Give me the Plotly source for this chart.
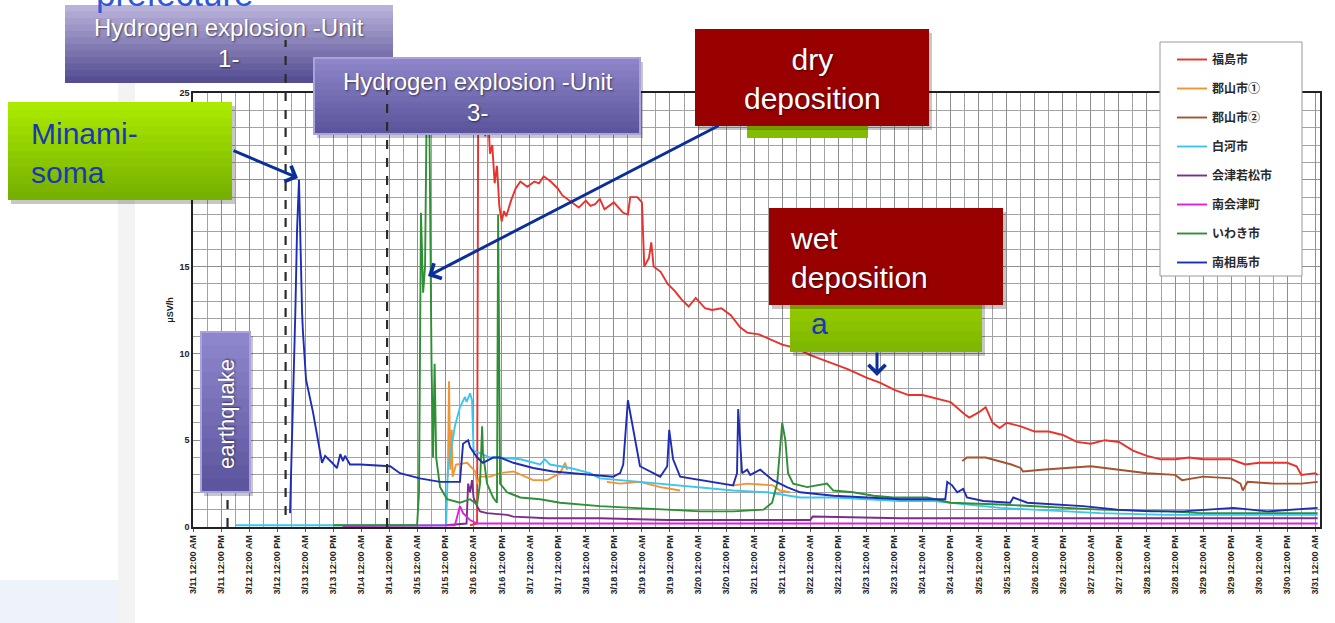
import pandas as pd
import plotly.graph_objects as go

# Air dose rate readings in Fukushima prefecture, March 2011 (μSv/h)
# each series: (date-time "MM-DD HH:MM", value)
fukushima = [
    ("03-15 22:30", 0.1), ("03-16 01:30", 0.2), ("03-16 02:00", 26.0), ("03-16 03:00", 23.0),
    ("03-16 04:00", 25.5), ("03-16 05:00", 22.5), ("03-16 06:00", 24.5), ("03-16 07:00", 21.5),
    ("03-16 08:00", 22.0), ("03-16 09:00", 19.8), ("03-16 10:00", 20.8), ("03-16 11:00", 18.5),
    ("03-16 12:00", 17.6), ("03-16 13:00", 18.2), ("03-16 14:00", 17.9), ("03-16 16:00", 18.8),
    ("03-16 18:00", 19.5), ("03-16 20:00", 19.9), ("03-16 23:00", 19.6), ("03-17 02:00", 19.9),
    ("03-17 04:00", 19.8), ("03-17 06:00", 20.2), ("03-17 09:00", 19.9), ("03-17 12:00", 19.5),
    ("03-17 14:00", 19.1), ("03-17 16:00", 18.9), ("03-17 18:00", 18.7), ("03-17 21:00", 18.4),
    ("03-18 00:00", 18.8), ("03-18 02:00", 18.5), ("03-18 04:00", 18.6), ("03-18 06:00", 18.9),
    ("03-18 08:00", 18.3), ("03-18 10:00", 18.5), ("03-18 12:00", 18.7), ("03-18 14:00", 18.4),
    ("03-18 16:00", 18.1), ("03-18 18:00", 18.0), ("03-18 19:00", 19.0), ("03-18 22:00", 19.0),
    ("03-19 00:00", 18.7), ("03-19 01:00", 15.0), ("03-19 03:00", 15.5), ("03-19 04:00", 16.4),
    ("03-19 05:00", 15.0), ("03-19 08:00", 14.7), ("03-19 11:00", 14.0), ("03-19 14:00", 13.6),
    ("03-19 17:00", 13.1), ("03-19 20:00", 12.7), ("03-19 23:00", 13.2), ("03-20 03:00", 12.6),
    ("03-20 06:00", 12.5), ("03-20 10:00", 12.6), ("03-20 14:00", 12.2), ("03-20 18:00", 11.5),
    ("03-20 21:00", 11.2), ("03-21 02:00", 11.1), ("03-21 07:00", 10.8), ("03-21 12:00", 10.5),
    ("03-21 18:00", 10.3), ("03-22 00:00", 9.9), ("03-22 08:00", 9.5), ("03-22 16:00", 9.1),
    ("03-23 00:00", 8.6), ("03-23 06:00", 8.3), ("03-23 12:00", 7.9), ("03-23 18:00", 7.6),
    ("03-24 00:00", 7.6), ("03-24 06:00", 7.4), ("03-24 12:00", 7.2), ("03-24 18:00", 6.5),
    ("03-24 20:00", 6.3), ("03-25 00:00", 6.6), ("03-25 03:00", 6.9), ("03-25 06:00", 6.0),
    ("03-25 09:00", 5.7), ("03-25 12:00", 6.0), ("03-25 18:00", 5.8), ("03-26 00:00", 5.5),
    ("03-26 06:00", 5.5), ("03-26 12:00", 5.3), ("03-26 18:00", 4.9), ("03-27 00:00", 4.8),
    ("03-27 06:00", 5.0), ("03-27 12:00", 4.9), ("03-27 18:00", 4.4), ("03-28 00:00", 4.1),
    ("03-28 06:00", 3.9), ("03-28 12:00", 3.9), ("03-28 18:00", 4.0), ("03-29 00:00", 3.9),
    ("03-29 12:00", 3.9), ("03-29 18:00", 3.6), ("03-30 00:00", 3.7), ("03-30 12:00", 3.7),
    ("03-30 16:00", 3.5), ("03-30 18:00", 3.0), ("03-31 00:00", 3.1), ("03-31 01:00", 3.0),
]

koriyama1 = [
    ("03-15 13:00", 2.9), ("03-15 13:30", 8.4), ("03-15 14:00", 3.3), ("03-15 14:40", 5.6),
    ("03-15 15:00", 2.9), ("03-15 16:30", 3.6), ("03-15 21:15", 3.7), ("03-15 23:20", 3.4),
    ("03-16 00:40", 3.2), ("03-16 01:30", 2.5), ("03-16 02:45", 2.9), ("03-16 07:00", 2.9),
    ("03-16 11:20", 3.1), ("03-16 17:00", 3.2), ("03-17 01:30", 2.7), ("03-17 07:30", 2.7),
    ("03-17 13:00", 3.1), ("03-17 15:10", 3.7), ("03-17 16:00", 3.3), ("03-17 16:30", None),
    ("03-18 09:00", 2.6), ("03-18 14:40", 2.5), ("03-18 23:10", 2.6), ("03-19 07:50", 2.3),
    ("03-19 16:20", 2.1), ("03-19 17:00", None),
    ("03-20 15:00", 2.4), ("03-20 21:00", 2.5), ("03-21 08:00", 2.4), ("03-21 11:00", 2.1),
    ("03-21 15:25", 2.0),
]

koriyama2 = [
    ("03-24 17:00", 3.8), ("03-24 19:00", 4.0), ("03-25 03:00", 4.0), ("03-25 09:00", 3.8),
    ("03-25 14:00", 3.6), ("03-25 18:00", 3.4), ("03-25 19:00", 3.2), ("03-26 03:00", 3.3),
    ("03-26 12:00", 3.4), ("03-27 00:00", 3.5), ("03-27 12:00", 3.3), ("03-28 00:00", 3.1),
    ("03-28 12:00", 3.0), ("03-28 15:00", 2.7), ("03-29 00:00", 2.9), ("03-29 12:00", 2.8),
    ("03-29 16:00", 2.5), ("03-29 17:00", 2.1), ("03-29 19:00", 2.6), ("03-30 06:00", 2.5),
    ("03-30 18:00", 2.5), ("03-31 01:00", 2.6),
]

shirakawa = [
    ("03-11 18:00", 0.1), ("03-15 12:15", 0.1), ("03-15 13:00", 3.3), ("03-15 14:50", 5.0),
    ("03-15 16:00", 5.8), ("03-15 18:10", 6.9), ("03-15 20:20", 7.5), ("03-15 21:00", 7.2),
    ("03-15 22:30", 7.7), ("03-15 23:20", 7.3), ("03-16 00:00", 4.4), ("03-16 02:00", 4.3),
    ("03-16 07:00", 4.0), ("03-16 11:20", 4.0), ("03-16 20:00", 3.9), ("03-17 04:30", 3.6),
    ("03-17 06:30", 3.9), ("03-17 08:40", 3.6), ("03-17 17:20", 3.4), ("03-18 01:50", 3.1),
    ("03-18 06:00", 2.8), ("03-18 23:10", 2.6), ("03-19 07:50", 2.5), ("03-19 16:20", 2.4),
    ("03-20 01:00", 2.3), ("03-20 15:00", 2.1), ("03-21 05:35", 2.0), ("03-21 19:40", 1.7),
    ("03-22 10:00", 1.7), ("03-23 00:20", 1.6), ("03-23 14:30", 1.5), ("03-24 04:40", 1.5),
    ("03-24 19:00", 1.3), ("03-25 09:10", 1.1), ("03-25 23:20", 1.0), ("03-26 14:00", 0.9),
    ("03-27 04:00", 0.8), ("03-28 08:40", 0.7), ("03-31 01:00", 0.7),
]

aizuwakamatsu = [
    ("03-15 12:00", 0.1), ("03-15 21:00", 0.2), ("03-15 21:40", 2.5), ("03-15 22:30", 2.0),
    ("03-15 23:20", 2.7), ("03-16 00:00", 1.7), ("03-16 01:30", 1.2), ("03-16 02:45", 0.9),
    ("03-16 05:45", 0.8), ("03-16 14:20", 0.7), ("03-16 17:00", 0.6), ("03-17 07:30", 0.5),
    ("03-18 06:00", 0.5), ("03-19 10:50", 0.4), ("03-22 00:00", 0.4), ("03-22 01:00", 0.6),
    ("03-23 14:30", 0.5), ("03-27 04:00", 0.5), ("03-31 01:00", 0.5),
]

minamiaizu = [
    ("03-13 16:00", 0.05), ("03-15 16:00", 0.1), ("03-15 17:00", 0.6), ("03-15 18:10", 1.2),
    ("03-15 19:30", 0.8), ("03-15 22:30", 0.4), ("03-16 01:30", 0.2), ("03-31 01:00", 0.2),
]

iwaki = [
    ("03-13 12:00", 0.1), ("03-14 23:50", 0.1), ("03-15 00:40", 2.0), ("03-15 01:30", 18.1),
    ("03-15 02:25", 13.5), ("03-15 03:15", 15.0), ("03-15 04:05", 26.0), ("03-15 05:00", 25.0),
    ("03-15 06:00", 9.6), ("03-15 06:40", 4.0), ("03-15 07:20", 9.4), ("03-15 08:00", 4.0),
    ("03-15 09:40", 2.3), ("03-15 12:40", 1.6), ("03-15 18:10", 1.4), ("03-15 22:30", 1.6),
    ("03-16 01:30", 1.3), ("03-16 02:45", 2.5), ("03-16 03:40", 5.8), ("03-16 04:00", 4.3),
    ("03-16 05:45", 2.5), ("03-16 08:20", 1.7), ("03-16 10:00", 1.4), ("03-16 10:30", 18.0),
    ("03-16 11:20", 2.5), ("03-16 14:20", 2.0), ("03-16 20:00", 1.7), ("03-17 04:30", 1.6),
    ("03-17 13:00", 1.4), ("03-17 21:30", 1.3), ("03-18 06:00", 1.2), ("03-18 20:00", 1.1),
    ("03-19 10:50", 1.0), ("03-20 01:00", 0.9), ("03-20 15:00", 0.9), ("03-21 04:00", 1.0),
    ("03-21 07:40", 1.4), ("03-21 09:50", 2.5), ("03-21 12:00", 6.0), ("03-21 13:20", 5.0),
    ("03-21 14:30", 3.1), ("03-21 16:40", 2.5), ("03-21 22:40", 2.3), ("03-22 07:10", 2.5),
    ("03-22 09:50", 2.1), ("03-22 18:20", 2.0), ("03-23 03:00", 1.8), ("03-23 11:30", 1.7),
    ("03-24 02:00", 1.7), ("03-24 12:00", 1.4), ("03-25 09:10", 1.3), ("03-25 23:20", 1.2),
    ("03-26 14:00", 1.1), ("03-27 04:00", 1.0), ("03-28 08:40", 0.9), ("03-28 22:50", 0.8),
    ("03-31 01:00", 0.8),
]

minamisoma = [
    ("03-12 17:30", 0.8), ("03-12 19:00", 7.9), ("03-12 19:45", 12.3), ("03-12 20:30", 17.1),
    ("03-12 21:20", 20.0), ("03-12 22:40", 12.3), ("03-12 23:00", 11.3), ("03-13 00:20", 8.5),
    ("03-13 03:20", 6.6), ("03-13 07:10", 3.7), ("03-13 08:30", 4.1), ("03-13 11:30", 3.7),
    ("03-13 13:35", 3.4), ("03-13 15:00", 4.2), ("03-13 16:10", 3.8), ("03-13 17:00", 4.1),
    ("03-13 19:10", 3.6), ("03-13 23:30", 3.6), ("03-14 12:20", 3.5), ("03-14 16:30", 3.1),
    ("03-15 01:00", 2.8), ("03-15 09:40", 2.6), ("03-15 18:10", 2.6), ("03-15 19:30", 4.8),
    ("03-15 21:40", 5.0), ("03-15 22:30", 4.6), ("03-16 01:30", 4.0), ("03-16 04:00", 3.7),
    ("03-16 08:20", 4.0), ("03-16 11:20", 4.0), ("03-16 17:00", 3.7), ("03-17 01:30", 3.4),
    ("03-17 10:00", 3.2), ("03-17 18:30", 3.1), ("03-18 03:00", 3.0), ("03-18 11:40", 2.9),
    ("03-18 14:40", 3.1), ("03-18 16:00", 3.6), ("03-18 18:00", 7.3), ("03-18 19:50", 6.0),
    ("03-18 23:10", 3.5), ("03-19 07:50", 2.9), ("03-19 10:50", 3.5), ("03-19 11:40", 5.6),
    ("03-19 13:20", 3.9), ("03-19 16:20", 2.9), ("03-20 01:00", 2.7), ("03-20 15:00", 2.4),
    ("03-20 16:40", 3.1), ("03-20 17:10", 6.8), ("03-20 18:50", 3.1), ("03-20 21:00", 3.3),
    ("03-20 22:20", 3.0), ("03-21 02:35", 3.3), ("03-21 08:00", 2.7), ("03-21 14:00", 2.3),
    ("03-21 19:40", 2.0), ("03-22 10:00", 1.8), ("03-23 00:20", 1.7), ("03-23 14:30", 1.6),
    ("03-24 04:40", 1.6), ("03-24 09:45", 1.6), ("03-24 10:35", 2.6), ("03-24 12:40", 2.4),
    ("03-24 14:50", 2.0), ("03-24 17:25", 2.2), ("03-24 19:00", 1.7), ("03-25 02:00", 1.5),
    ("03-25 13:30", 1.4), ("03-25 14:50", 1.7), ("03-25 20:50", 1.4), ("03-26 06:40", 1.3),
    ("03-26 20:40", 1.2), ("03-27 11:20", 1.0), ("03-28 01:30", 0.9), ("03-28 15:30", 0.9),
    ("03-29 13:00", 1.1), ("03-30 03:30", 0.9), ("03-31 01:00", 1.1),
]

series = [
    ("福島市", fukushima, "#e8322c"),
    ("郡山市①", koriyama1, "#f39433"),
    ("郡山市②", koriyama2, "#a5532c"),
    ("白河市", shirakawa, "#3cc6ee"),
    ("会津若松市", aizuwakamatsu, "#7a2d8c"),
    ("南会津町", minamiaizu, "#e01fe0"),
    ("いわき市", iwaki, "#2f8f34"),
    ("南相馬市", minamisoma, "#1f2db5"),
]

events = {
    "earthquake": "2011-03-11 14:46",
    "unit1": "2011-03-12 15:36",
    "unit3": "2011-03-14 11:01",
}

# plot area in pixels (figure is 1335 x 623)
L, T, W, H = 193, 93, 1127, 434


def px(x):
    return (x - L) / W


def py(y):
    return (T + H - y) / H


def mix(c1, c2, f):
    a = [int(c1[i:i + 2], 16) for i in (1, 3, 5)]
    b = [int(c2[i:i + 2], 16) for i in (1, 3, 5)]
    return "rgb(%d,%d,%d)" % tuple(round(a[k] + (b[k] - a[k]) * f) for k in range(3))


fig = go.Figure()

for name, data, color in series:
    fig.add_trace(go.Scatter(
        x=pd.to_datetime(["2011-" + t for t, _ in data]),
        y=[v for _, v in data],
        mode="lines",
        name=name,
        legendgroup=name,
        line=dict(color=color, width=1.9),
        connectgaps=False,
    ))


def box(x0, y0, x1, y1, top, bottom, steps=12, shadow=True):
    if shadow:
        fig.add_shape(type="rect", xref="paper", yref="paper", layer="above",
                      x0=px(x0 + 3), x1=px(x1 + 3), y0=py(y0 + 4), y1=py(y1 + 4),
                      fillcolor="rgba(0,0,0,0.22)", line_width=0)
    for i in range(steps):
        ya = y0 + (y1 - y0) * i / steps
        yb = y0 + (y1 - y0) * (i + 1) / steps + 2
        f = i / (steps - 1) if steps > 1 else 0
        fig.add_shape(type="rect", xref="paper", yref="paper", layer="above",
                      x0=px(x0), x1=px(x1), y0=py(ya), y1=py(min(yb, y1)),
                      fillcolor=mix(top, bottom, f), line_width=0)


def label(x, y, text, size, color="white", align="center", xanchor="center", angle=0, shade=True):
    fig.add_annotation(
        x=px(x), y=py(y), xref="paper", yref="paper", text=text, showarrow=False,
        xanchor=xanchor, yanchor="middle", align=align, textangle=angle,
        font=dict(family="Arial, Liberation Sans", size=size, color=color,
                  shadow="1px 1px 2px rgba(0,0,0,0.55)" if shade else "none"),
    )


def arrow(x, y, x_tail, y_tail):
    fig.add_annotation(
        x=px(x), y=py(y), xref="paper", yref="paper", text="", showarrow=True,
        ax=x_tail - x, ay=y_tail - y, arrowhead=4, arrowsize=1.1, arrowwidth=3,
        arrowcolor="#0b2f98",
    )


# slide background pieces on the left
fig.add_shape(type="rect", xref="paper", yref="paper", layer="below",
              x0=px(118), x1=px(135), y0=py(623), y1=py(80),
              fillcolor="#f3f3f3", line_width=0)
fig.add_shape(type="rect", xref="paper", yref="paper", layer="below",
              x0=px(0), x1=px(118), y0=py(623), y1=py(580),
              fillcolor="#eef3fb", line_width=0)

# legend frame
fig.add_shape(type="rect", xref="paper", yref="paper", layer="above",
              x0=px(1160), x1=px(1302), y0=py(276), y1=py(42),
              fillcolor="white", line=dict(color="#9a9a9a", width=1))

# Hydrogen explosion boxes
box(65, 5, 393, 83, "#b8b1da", "#554e92", shadow=False)
box(314, 58, 640, 134, "#8d85c8", "#5c559c")
fig.add_shape(type="rect", xref="paper", yref="paper", layer="above",
              x0=px(314), x1=px(640), y0=py(134), y1=py(58),
              fillcolor="rgba(0,0,0,0)", line=dict(color="#a9a2dc", width=2))

# dry / wet deposition
box(747, 112, 868, 138, "#9ed400", "#84bd00", steps=3, shadow=False)
box(695, 29, 929, 126, "#990000", "#990000", steps=1)
box(790, 290, 982, 352, "#9ad000", "#7fb800", steps=6)
box(769, 208, 1003, 305, "#990000", "#990000", steps=1)

# Minami-soma, earthquake
box(8, 102, 232, 200, "#aaea00", "#76b000")
box(201, 332, 250, 492, "#8e86cc", "#5d569e")
fig.add_shape(type="rect", xref="paper", yref="paper", layer="above",
              x0=px(201), x1=px(250), y0=py(492), y1=py(332),
              fillcolor="rgba(0,0,0,0)", line=dict(color="#a9a2dc", width=2))

# event lines
for key, top, bottom in [("earthquake", 492, 527), ("unit1", 40, 515), ("unit3", 88, 527)]:
    fig.add_shape(type="line", xref="x", yref="paper", layer="above",
                  x0=events[key], x1=events[key], y0=py(bottom), y1=py(top),
                  line=dict(color="#2b2b2b", width=2.2, dash="dash"))

# texts
fig.add_annotation(x=px(175), y=py(-7), xref="paper", yref="paper", text="prefecture",
                   showarrow=False, xanchor="center", yanchor="middle",
                   font=dict(family="Arial, Liberation Sans", size=35, color="#2c5ad6"))
label(229, 43, "Hydrogen explosion -Unit<br>1-", 24)
label(478, 97, "Hydrogen explosion -Unit<br>3-", 24)
label(29, 153, "Minami-<br>soma", 30, color="#1a38b0", align="left", xanchor="left", shade=False)
label(812, 79, "dry<br>deposition", 30)
label(788, 258, "wet<br>deposition", 30, align="left", xanchor="left")
label(809, 323, "a", 30, color="#1a38b0", align="left", xanchor="left", shade=False)
label(226, 414, "earthquake", 22, angle=-90)

arrow(298, 178, 232, 150)
arrow(428, 276, 720, 125)
arrow(877, 376, 877, 351)

grid = "#a3a3a3"
tick_font = dict(family="Arial, Liberation Sans", size=9, color="#222222", weight="bold")
fig.update_layout(
    width=1335, height=623,
    margin=dict(l=L, r=1335 - L - W, t=T, b=623 - T - H),
    paper_bgcolor="white", plot_bgcolor="white",
    showlegend=True,
    legend=dict(x=px(1172), y=py(45), xanchor="left", yanchor="top",
                bgcolor="rgba(0,0,0,0)", borderwidth=0, tracegroupgap=10,
                font=dict(family="Noto Sans CJK JP", size=12, color="#2a2a2a", weight="bold")),
    xaxis=dict(
        type="date", range=["2011-03-11 00:00", "2011-03-31 02:00"],
        tick0="2011-03-11", dtick=12 * 3600 * 1000,
        tickformat="%-m/%-d %I:%M %p", tickangle=-90,
        tickfont=tick_font,
        showgrid=True, gridcolor="#8f8f8f", gridwidth=1,
        minor=dict(dtick=6 * 3600 * 1000, showgrid=True, gridcolor=grid, gridwidth=1),
        showline=True, linecolor="#222222", linewidth=1.5, mirror=True,
        ticks="outside", ticklen=3, tickcolor="#555555", zeroline=False,
    ),
    yaxis=dict(
        range=[0, 25], dtick=5,
        tickfont=tick_font,
        title=dict(text="μSV/h", font=tick_font, standoff=4),
        showgrid=True, gridcolor="#8f8f8f", gridwidth=1,
        minor=dict(dtick=1, showgrid=True, gridcolor=grid, gridwidth=1),
        showline=True, linecolor="#222222", linewidth=1.5, mirror=True,
        zeroline=False,
    ),
)

fig.write_html(
    "out.html",
    config={"displayModeBar": False},
    post_script="document.body.style.margin='0';document.body.style.overflow='hidden';",
)
